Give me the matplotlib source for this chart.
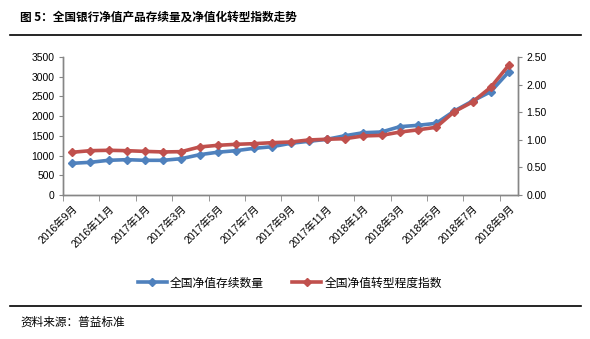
import numpy as np
import matplotlib
matplotlib.use("Agg")
import matplotlib.pyplot as plt
from matplotlib.lines import Line2D

plt.rcParams["font.family"] = ["Liberation Sans", "Noto Sans CJK SC"]

# monthly, Sep 2016 .. Sep 2018
months = [f"{y}年{m}月" for y, m in
          [(2016, 9), (2016, 10), (2016, 11), (2016, 12)]
          + [(2017, m) for m in range(1, 13)]
          + [(2018, m) for m in range(1, 10)]]

product_count = [804, 829, 880, 896, 880, 880, 921, 1022, 1085, 1124,
                 1184, 1225, 1311, 1362, 1412, 1504, 1580, 1598, 1733, 1767,
                 1818, 2130, 2384, 2620, 3127]
transform_index = [0.774, 0.803, 0.81, 0.803, 0.79, 0.78, 0.785, 0.87, 0.90, 0.918,
                   0.93, 0.948, 0.96, 0.997, 1.01, 1.02, 1.07, 1.08, 1.14, 1.18,
                   1.227, 1.51, 1.685, 1.95, 2.355]

BLUE = "#4F81BD"
RED = "#C0504D"
AXIS = "#868686"
CJK = ["Noto Sans CJK SC"]

fig = plt.figure(figsize=(5.9, 3.39), dpi=100)
ax = fig.add_axes([63 / 590, 1 - 195 / 339, 455 / 590, 138 / 339])
ax2 = ax.twinx()

x = np.arange(len(months))
ax.plot(x, product_count, color=BLUE, lw=2.6, marker="D", ms=4.5, zorder=3)
ax2.plot(x, transform_index, color=RED, lw=2.6, marker="D", ms=4.5, zorder=3)

ax.set_xlim(-0.5, len(months) - 0.5)
ax.set_ylim(0, 3500)
ax.set_yticks(np.arange(0, 3501, 500))
ax2.set_ylim(0, 2.5)
ax2.set_yticks(np.arange(0, 2.51, 0.5))
ax2.set_yticklabels([f"{v:.2f}" for v in np.arange(0, 2.51, 0.5)])

# labels every 2 months, tick marks on category boundaries
ax.set_xticks(x[::2])
ax.set_xticklabels(months[::2], rotation=45, ha="right", va="top",
                   rotation_mode="anchor")
ax.set_xticks(np.arange(-0.5, len(months) - 1, 2), minor=True)
ax.tick_params(axis="x", which="major", length=0, pad=6, labelsize=7.5)
ax.tick_params(axis="x", which="minor", length=4, color=AXIS, direction="out")
ax.tick_params(axis="y", length=3, color=AXIS, labelsize=7.5, pad=3)
ax2.tick_params(axis="y", length=3, color=AXIS, labelsize=7.5, pad=3)

for a in (ax, ax2):
    a.spines["top"].set_visible(False)
    for s in ("left", "right", "bottom"):
        a.spines[s].set_color(AXIS)
        a.spines[s].set_linewidth(1.0)

# title and rules
fig.text(20 / 590, 1 - 17 / 339, "图 5：全国银行净值产品存续量及净值化转型指数走势",
         family=CJK, fontsize=8.4, weight="bold", va="center", ha="left")
fig.add_artist(Line2D([10 / 590, 581 / 590], [1 - 35 / 339] * 2, color="black", lw=1.2))
fig.add_artist(Line2D([10 / 590, 581 / 590], [1 - 306 / 339] * 2, color="black", lw=1.2))

handles = [Line2D([], [], color=BLUE, lw=2.6, marker="D", ms=4.5),
           Line2D([], [], color=RED, lw=2.6, marker="D", ms=4.5)]
fig.legend(handles, ["全国净值存续数量", "全国净值转型程度指数"],
           loc="center", bbox_to_anchor=(290 / 590, 1 - 283 / 339), ncol=2,
           frameon=False, prop={"family": CJK, "size": 8.5},
           handlelength=2.4, handletextpad=0.3, columnspacing=2.4)

fig.text(20 / 590, 1 - 322 / 339, "资料来源：普益标准", family=CJK, fontsize=8.4,
         va="center", ha="left")

fig.savefig("out.png", dpi=100)
